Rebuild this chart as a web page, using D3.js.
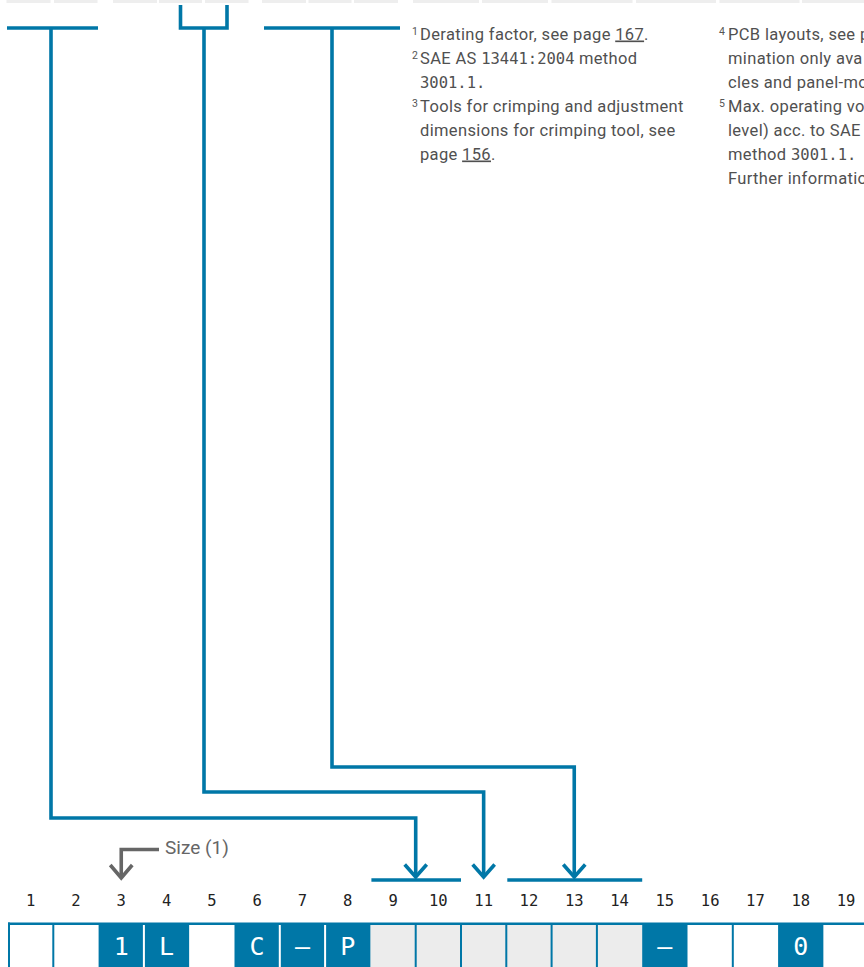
<!DOCTYPE html>
<html>
<head>
<meta charset="utf-8">
<script src="https://cdn.jsdelivr.net/npm/d3@7"></script>
<style>
  html, body { margin: 0; padding: 0; background: #ffffff; }
  svg { display: block; }
</style>
</head>
<body>
<script>
// ---------------- data ----------------
const positions = ["1","2","3","4","5","6","7","8","9","10","11","12","13","14","15","16","17","18","19"];
const codeChars = ["", "", "1", "L", "", "C", "–", "P", "", "", "", "", "", "", "–", "", "", "0", ""];
const cellKinds = ["open","open","fixed","fixed","open","fixed","fixed","fixed",
                   "option","option","option","option","option","option",
                   "fixed","open","open","fixed","open"];
// groups of positions pointed to by the selection arrows
const arrowGroups = [
  { from: "9",  to: "10" },
  { from: "11", to: "11" },
  { from: "12", to: "14" }
];
const sizeLabel = "Size (1)";
const sizePosition = "3";

const notesCol1 = [
  { sup: "1", parts: [["Derating factor, see page ", ""], ["167", "link"], [".", ""]] },
  { sup: "2", parts: [["SAE AS ", ""], ["13441:2004", "mono"], [" method", ""]] },
  { sup: "",  parts: [["3001.1.", "mono"]] },
  { sup: "3", parts: [["Tools for crimping and adjustment", ""]] },
  { sup: "",  parts: [["dimensions for crimping tool, see", ""]] },
  { sup: "",  parts: [["page ", ""], ["156", "link"], [".", ""]] }
];
const notesCol2 = [
  { sup: "4", parts: [["PCB layouts, see p", ""]] },
  { sup: "",  parts: [["mination only ava", ""]] },
  { sup: "",  parts: [["cles and panel-mo", ""]] },
  { sup: "5", parts: [["Max. operating vo", ""]] },
  { sup: "",  parts: [["level) acc. to SAE", ""]] },
  { sup: "",  parts: [["method ", ""], ["3001.1.", "mono"]] },
  { sup: "",  parts: [["Further informatio", ""]] }
];

// ---------------- layout ----------------
const W = 864, H = 967;
const blue = "#0077a7";
const grey = "#ececec";
const lw = 3.6;

const svg = d3.select("body").append("svg")
  .attr("width", W).attr("height", H)
  .attr("viewBox", `0 0 ${W} ${H}`);

// cropped header table at the very top
const topCells = [[6.5,50.5],[54,97.5],[113,157],[159,202],[205,248.5],[262,306],[308.5,351.5],
                  [354,398],[413,479],[482,548],[551.5,632.5],[636,716],[719.5,799.5],[802,864]];
svg.append("g").selectAll("rect").data(topCells).join("rect")
  .attr("x", d => d[0]).attr("y", 0)
  .attr("width", d => d[1] - d[0]).attr("height", 3)
  .attr("fill", "#eeeeee");

const x = d3.scaleBand().domain(positions).range([8, 8 + 19 * 45.3]).paddingInner(0);
const bw = x.bandwidth();
const cx = p => x(p) + bw / 2;

// ---- bottom code cells ----
const cellTop = 925;
const fillOf = k => k === "fixed" ? blue : (k === "option" ? grey : "#ffffff");
const cells = svg.append("g");
cells.selectAll("rect.cell").data(positions).join("rect")
  .attr("class", "cell")
  .attr("x", d => x(d)).attr("y", cellTop)
  .attr("width", bw + 0.5).attr("height", H - cellTop)
  .attr("fill", (d, i) => fillOf(cellKinds[i]));
// top border and left edge
cells.append("rect").attr("x", 8).attr("y", cellTop - 2.5).attr("width", W - 8).attr("height", 2.5).attr("fill", blue);
cells.append("rect").attr("x", 8).attr("y", cellTop - 2.5).attr("width", 2).attr("height", H).attr("fill", blue);
// dividers: blue between two non-blue cells, white between two blue cells
const bounds = positions.slice(1).map((p, i) => ({ p, a: cellKinds[i], b: cellKinds[i + 1] }));
cells.selectAll("rect.div").data(bounds.filter(d => (d.a === "fixed") === (d.b === "fixed"))).join("rect")
  .attr("class", "div")
  .attr("x", d => x(d.p) - 1).attr("y", cellTop)
  .attr("width", 2).attr("height", H - cellTop)
  .attr("fill", d => d.a === "fixed" ? "#ffffff" : blue);
cells.selectAll("text").data(positions).join("text")
  .attr("x", d => cx(d)).attr("y", 955)
  .attr("text-anchor", "middle")
  .attr("font-family", "'DejaVu Sans Mono', monospace")
  .attr("font-size", 25)
  .attr("fill", "#ffffff")
  .text((d, i) => codeChars[i]);

// position numbers
svg.append("g").selectAll("text").data(positions).join("text")
  .attr("x", d => cx(d)).attr("y", 906)
  .attr("text-anchor", "middle")
  .attr("font-family", "'DejaVu Sans Mono', monospace")
  .attr("font-size", 15.5)
  .attr("fill", "#222222")
  .text(d => d);

// ---- brackets & arrows ----
const g = svg.append("g").attr("fill", "none").attr("stroke", blue)
  .attr("stroke-width", lw).attr("stroke-linejoin", "miter").attr("stroke-linecap", "butt");
const topY = 28, tipY = 877, barY = 880;
const brackets = [
  { top: `M7,${topY}H98`, stem: 51, turnY: 818 },
  { top: `M180.5,5V${topY}H227V5`, stem: 204, turnY: 792 },
  { top: `M264,${topY}H400`, stem: 332, turnY: 767 }
];
arrowGroups.forEach((grp, i) => {
  const b = brackets[i];
  const x0 = x(grp.from), x1 = x(grp.to) + bw;
  const ax = (x0 + x1) / 2;
  g.append("path").attr("d", b.top);
  g.append("path").attr("d", `M${b.stem},${topY}V${b.turnY}H${ax}V${tipY}`);
  g.append("path").attr("d", `M${ax - 11},${tipY - 12.5}L${ax},${tipY}L${ax + 11},${tipY - 12.5}`);
  if (grp.from !== grp.to) {
    g.append("path").attr("d", `M${x0 + 1},${barY}H${x1}`);
  }
});

// ---- size pointer ----
const sx = cx(sizePosition);
const gs = svg.append("g").attr("fill", "none").attr("stroke", "#666666")
  .attr("stroke-width", lw).attr("stroke-linejoin", "miter");
gs.append("path").attr("d", `M159,849.5H${sx}V878`);
gs.append("path").attr("d", `M${sx - 11},${865}L${sx},${878}L${sx + 11},${865}`);
svg.append("text").attr("x", 165).attr("y", 854)
  .attr("font-family", "Roboto, 'Noto Sans', sans-serif")
  .attr("font-size", 19).attr("fill", "#666666")
  .text(sizeLabel);

// ---- footnotes ----
function drawNotes(notes, xSup, xText) {
  const grp = svg.append("g");
  notes.forEach((n, i) => {
    const y = 39.5 + i * 24;
    if (n.sup) {
      grp.append("text").attr("x", xSup).attr("y", y - 5)
        .attr("text-anchor", "end")
        .attr("font-family", "Roboto, sans-serif").attr("font-size", 10.5)
        .attr("fill", "#555555").text(n.sup);
    }
    const t = grp.append("text").attr("x", xText).attr("y", y)
      .attr("font-family", "Roboto, 'Noto Sans', sans-serif")
      .attr("font-size", 16.5).attr("letter-spacing", 0.35).attr("fill", "#505050")
      .attr("xml:space", "preserve").style("white-space", "pre");
    n.parts.forEach(([s, kind]) => {
      const ts = t.append("tspan").text(s);
      if (kind === "mono") ts.attr("font-family", "'DejaVu Sans Mono', monospace").attr("font-size", 15.5).attr("letter-spacing", 0);
      if (kind === "link") ts.attr("text-decoration", "underline").style("text-decoration-color", blue);
    });
  });
}
drawNotes(notesCol1, 418, 420);
drawNotes(notesCol2, 725, 728);
</script>
</body>
</html>
